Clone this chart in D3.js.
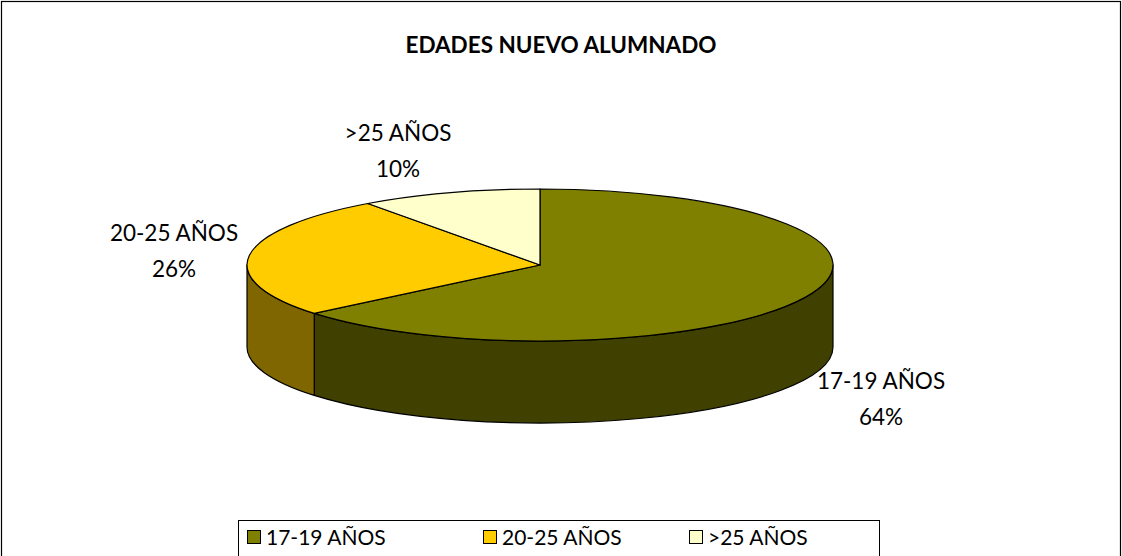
<!DOCTYPE html>
<html>
<head>
<meta charset="utf-8">
<script src="https://cdn.jsdelivr.net/npm/d3@7"></script>
<style>
  html, body { margin: 0; padding: 0; background: #fff; }
  svg { display: block; font-family: Lato, "Open Sans", sans-serif; }
</style>
</head>
<body>
<div id="chart"></div>
<script>
// ############################################################################
// 3D pie chart: EDADES NUEVO ALUMNADO
// ############################################################################

const categories = ["17-19 AÑOS", "20-25 AÑOS", ">25 AÑOS"]
const values     = [64, 26, 10]
const topColors  = ["#808000", "#FFCC00", "#FFFFCC"]
const sideColors = ["#404000", "#806600", "#808066"]

const width  = 1122
const height = 556

// Ellipse geometry of the pie
const cx = 540, cy = 265
const rx = 293, ry = 76
const depth = 82

const svg = d3.select("#chart").append("svg")
  .attr("width", width)
  .attr("height", height)

// Chart frame
svg.append("rect")
  .attr("x", 1.5).attr("y", 1.5)
  .attr("width", width - 3).attr("height", height + 10)
  .attr("fill", "#fff")
  .attr("stroke", "#000")
  .attr("stroke-width", 1.2)

// Title
svg.append("text")
  .attr("x", 561).attr("y", 53)
  .attr("text-anchor", "middle")
  .style("font-weight", "bold")
  .style("font-size", "22.5px")
  .text("EDADES NUEVO ALUMNADO")

// ----------------------------------------------------------------------------
// Pie angles (clockwise from 12 o'clock)
// ----------------------------------------------------------------------------

const data = categories.map((c, i) => ({ name: c, value: values[i], i: i }))
const pie = d3.pie().sort(null).value(d => d.value).startAngle(0).endAngle(2 * Math.PI)
const arcs = pie(data)
const total = d3.sum(values)
const pct = d3.format(".0%")

const px = a => cx + rx * Math.sin(a)
const py = a => cy - ry * Math.cos(a)

// Sides: only the front half (PI/2 .. 3PI/2) is visible
const g = svg.append("g")
arcs.forEach(a => {
  const a0 = Math.max(a.startAngle, Math.PI / 2)
  const a1 = Math.min(a.endAngle, 3 * Math.PI / 2)
  if (a1 <= a0) return
  const large = (a1 - a0) > Math.PI ? 1 : 0
  const p = "M" + px(a0) + "," + py(a0)
    + " A" + rx + "," + ry + " 0 " + large + " 1 " + px(a1) + "," + py(a1)
    + " L" + px(a1) + "," + (py(a1) + depth)
    + " A" + rx + "," + ry + " 0 " + large + " 0 " + px(a0) + "," + (py(a0) + depth)
    + " Z"
  g.append("path")
    .attr("d", p)
    .attr("fill", sideColors[a.data.i])
    .attr("stroke", "#000")
    .attr("stroke-width", 1.2)
    .attr("stroke-linejoin", "round")
})

// Top faces
arcs.forEach(a => {
  const large = (a.endAngle - a.startAngle) > Math.PI ? 1 : 0
  const p = "M" + cx + "," + cy
    + " L" + px(a.startAngle) + "," + py(a.startAngle)
    + " A" + rx + "," + ry + " 0 " + large + " 1 " + px(a.endAngle) + "," + py(a.endAngle)
    + " Z"
  g.append("path")
    .attr("d", p)
    .attr("fill", topColors[a.data.i])
    .attr("stroke", "#000")
    .attr("stroke-width", 1.2)
    .attr("stroke-linejoin", "round")
})

// Data labels
const labelPos = [[881, 389], [174, 241], [398, 141]]
arcs.forEach(a => {
  const [lx, ly] = labelPos[a.data.i]
  const t = svg.append("text")
    .attr("text-anchor", "middle")
    .style("font-size", "22.5px")
  t.append("tspan").attr("x", lx).attr("y", ly).text(a.data.name)
  t.append("tspan").attr("x", lx).attr("y", ly + 36).text(pct(a.data.value / total))
})

// ----------------------------------------------------------------------------
// Legend
// ----------------------------------------------------------------------------

svg.append("rect")
  .attr("x", 238.5).attr("y", 520.5)
  .attr("width", 641).attr("height", 50)
  .attr("fill", "#fff")
  .attr("stroke", "#000")
  .attr("stroke-width", 1)

const legendX = [247, 483, 689]
categories.forEach((c, i) => {
  svg.append("rect")
    .attr("x", legendX[i] + 0.5).attr("y", 530.5)
    .attr("width", 13).attr("height", 13)
    .attr("fill", topColors[i])
    .attr("stroke", "#000")
  svg.append("text")
    .attr("x", legendX[i] + 19).attr("y", 545)
    .style("font-size", "21px")
    .text(c)
})
</script>
</body>
</html>
